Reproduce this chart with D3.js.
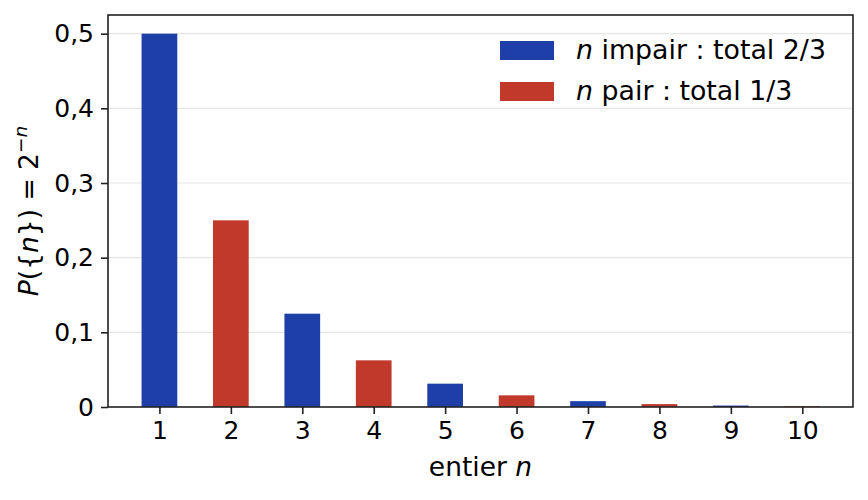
<!DOCTYPE html>
<html>
<head>
<meta charset="utf-8">
<script src="https://cdn.jsdelivr.net/npm/d3@7"></script>
<style>
  body { margin: 0; background: #fff; }
  text { font-family: "DejaVu Sans", sans-serif; fill: #000; }
</style>
</head>
<body>
<script>
// valeurs P({n}) = 2^-n
const entiers = [1, 2, 3, 4, 5, 6, 7, 8, 9, 10];
const probas = [0.5, 0.25, 0.125, 0.0625, 0.03125, 0.015625, 0.0078125, 0.00390625, 0.001953125, 0.0009765625];
const yTicks = [0, 0.1, 0.2, 0.3, 0.4, 0.5];
const legende = ["impair : total 2/3", "pair : total 1/3"];
const couleurs = ["#1f3fa8", "#c0392b"];

const width = 868, height = 500;
const margin = {top: 15, right: 15, bottom: 93, left: 108};

const svg = d3.select('body')
  .append('svg')
  .attr('width', width)
  .attr('height', height);

const x = d3.scaleLinear()
  .domain([0.28, 10.71])
  .range([margin.left, width - margin.right]);

const y = d3.scaleLinear()
  .domain([0, 0.525])
  .range([height - margin.bottom, margin.top]);

// grille horizontale
svg.append('g')
  .selectAll('line')
  .data(yTicks.slice(1))
  .enter()
  .append('line')
  .attr('x1', margin.left)
  .attr('x2', width - margin.right)
  .attr('y1', d => y(d))
  .attr('y2', d => y(d))
  .attr('stroke', '#e6e6e6')
  .attr('stroke-width', 1.2);

// barres
svg.append('g')
  .selectAll('rect')
  .data(entiers)
  .enter()
  .append('rect')
  .attr('x', d => x(d - 0.25))
  .attr('width', d => x(d + 0.25) - x(d - 0.25))
  .attr('y', (d, i) => y(probas[i]))
  .attr('height', (d, i) => y(0) - y(probas[i]))
  .attr('fill', d => d % 2 === 1 ? couleurs[0] : couleurs[1]);

// axes
const xAxis = d3.axisBottom(x)
  .tickValues(entiers)
  .tickFormat(d3.format('d'))
  .tickSize(7)
  .tickPadding(7);

const yAxis = d3.axisLeft(y)
  .tickValues(yTicks)
  .tickFormat(d => d === 0 ? '0' : d3.format('.1f')(d).replace('.', ','))
  .tickSize(7)
  .tickPadding(7);

const gx = svg.append('g')
  .attr('transform', `translate(0,${height - margin.bottom})`)
  .call(xAxis);
const gy = svg.append('g')
  .attr('transform', `translate(${margin.left},0)`)
  .call(yAxis);

[gx, gy].forEach(g => {
  g.select('.domain').remove();
  g.selectAll('line').attr('stroke', '#222').attr('stroke-width', 1.6);
  g.selectAll('text')
    .style('font-family', '"DejaVu Sans", sans-serif')
    .style('font-size', '25px')
    .attr('fill', '#000');
});

// cadre
svg.append('rect')
  .attr('x', margin.left)
  .attr('y', margin.top)
  .attr('width', width - margin.right - margin.left)
  .attr('height', height - margin.bottom - margin.top)
  .attr('fill', 'none')
  .attr('stroke', '#222')
  .attr('stroke-width', 1.6);

// titres des axes
const xLab = svg.append('text')
  .attr('x', (margin.left + width - margin.right) / 2)
  .attr('y', 476)
  .attr('text-anchor', 'middle')
  .style('font-size', '26.5px');
xLab.append('tspan').text('entier ');
xLab.append('tspan').attr('font-style', 'italic').text('n');

const yLab = svg.append('text')
  .attr('transform', `translate(38,${(margin.top + height - margin.bottom) / 2}) rotate(-90)`)
  .attr('text-anchor', 'middle')
  .style('font-size', '26.5px');
yLab.append('tspan').attr('font-style', 'italic').text('P');
yLab.append('tspan').text('({');
yLab.append('tspan').attr('font-style', 'italic').text('n');
yLab.append('tspan').text('}) = 2');
yLab.append('tspan').attr('dy', -11).style('font-size', '18.5px').text('−');
yLab.append('tspan').attr('font-style', 'italic').style('font-size', '18.5px').text('n');

// légende
const leg = svg.append('g')
  .selectAll('g')
  .data(legende)
  .enter()
  .append('g')
  .attr('transform', (d, i) => `translate(500,${41 + i * 41})`);

leg.append('rect')
  .attr('width', 54)
  .attr('height', 19)
  .attr('fill', (d, i) => couleurs[i]);

const lt = leg.append('text')
  .attr('x', 76)
  .attr('y', 18)
  .style('font-size', '26.8px');
lt.append('tspan').attr('font-style', 'italic').text('n');
lt.append('tspan').text(d => ' ' + d);
</script>
</body>
</html>
